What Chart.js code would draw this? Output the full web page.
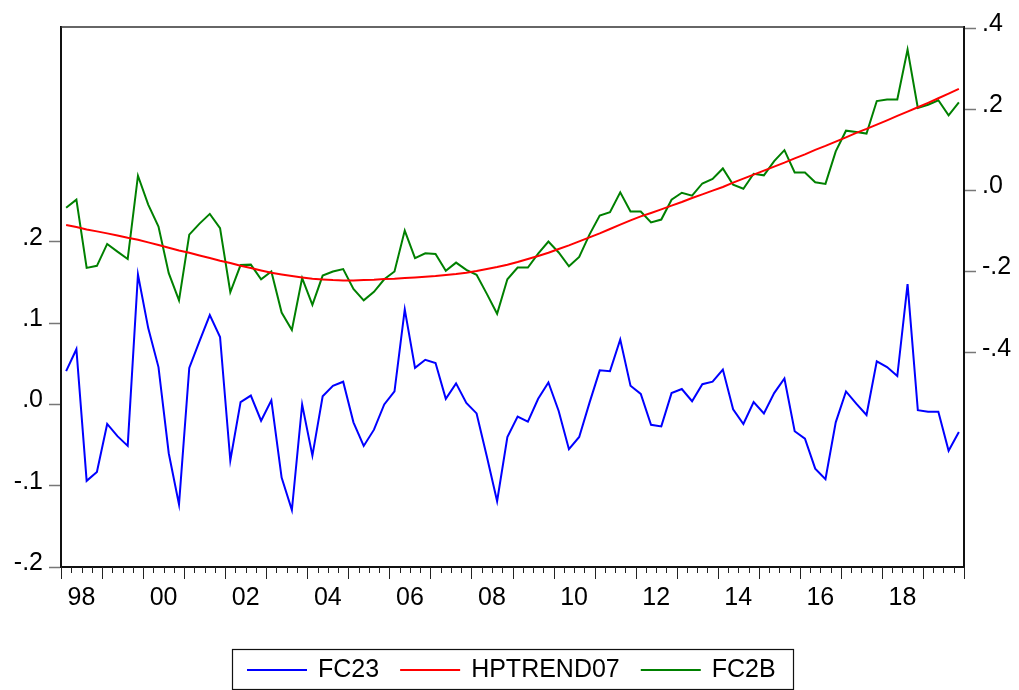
<!DOCTYPE html>
<html>
<head>
<meta charset="utf-8">
<script src="https://cdn.jsdelivr.net/npm/chart.js@4.4.0/dist/chart.umd.min.js"></script>
<style>
  html, body { margin: 0; padding: 0; background: #fff; }
  #wrap { width: 1019px; height: 690px; }
</style>
</head>
<body>
<div id="wrap"><canvas id="chart" width="1019" height="690"></canvas></div>
<script>
// quarterly observations 1998Q1 .. 2019Q4
const firstYear = 1998;
const quarters = [];
for (let y = firstYear; y <= 2019; y++) {
    for (let q = 1; q <= 4; q++) quarters.push(y + 'Q' + q);
}
const yearLabels = ['98', '00', '02', '04', '06', '08', '10', '12', '14', '16', '18'];
const leftTicks = [-0.2, -0.1, 0, 0.1, 0.2];
const rightTicks = [-0.4, -0.2, 0, 0.2, 0.4];

const fc23 = [
    0.041, 0.068, -0.094, -0.083, -0.024, -0.039, -0.051, 0.160, 0.094, 0.046,
    -0.060, -0.123, 0.045, 0.078, 0.110, 0.083, -0.069, 0.003, 0.011, -0.020,
    0.005, -0.090, -0.130, 0.000, -0.063, 0.010, 0.023, 0.028, -0.022, -0.051,
    -0.031, 0.000, 0.016, 0.117, 0.045, 0.055, 0.051, 0.007, 0.026, 0.002,
    -0.011, -0.064, -0.119, -0.040, -0.015, -0.021, 0.007, 0.027, -0.008, -0.055,
    -0.040, 0.002, 0.042, 0.041, 0.080, 0.023, 0.013, -0.025, -0.027, 0.014,
    0.019, 0.004, 0.025, 0.028, 0.043, -0.006, -0.024, 0.003, -0.011, 0.014,
    0.032, -0.033, -0.042, -0.079, -0.092, -0.022, 0.016, 0.001, -0.013, 0.053,
    0.046, 0.035, 0.148, -0.007, -0.009, -0.009, -0.057, -0.034
];

const hptrend07 = [
    -0.0853, -0.0903, -0.0962, -0.1011, -0.1060, -0.1110, -0.1166, -0.1216, -0.1282, -0.1347,
    -0.1413, -0.1480, -0.1536, -0.1603, -0.1667, -0.1734, -0.1790, -0.1857, -0.1914, -0.1973,
    -0.2030, -0.2072, -0.2111, -0.2145, -0.2178, -0.2195, -0.2210, -0.2219, -0.2219, -0.2210,
    -0.2202, -0.2185, -0.2178, -0.2160, -0.2145, -0.2128, -0.2111, -0.2086, -0.2062, -0.2030,
    -0.1988, -0.1938, -0.1889, -0.1832, -0.1766, -0.1692, -0.1618, -0.1536, -0.1445, -0.1356,
    -0.1258, -0.1159, -0.1060, -0.0952, -0.0846, -0.0740, -0.0641, -0.0557, -0.0469, -0.0377,
    -0.0286, -0.0187, -0.0099, -0.0007, 0.0084, 0.0190, 0.0289, 0.0387, 0.0486, 0.0584,
    0.0683, 0.0789, 0.0888, 0.0996, 0.1095, 0.1201, 0.1307, 0.1416, 0.1514, 0.1620,
    0.1726, 0.1835, 0.1941, 0.2047, 0.2155, 0.2269, 0.2385, 0.2501
];

const fc2b = [
    -0.043, -0.023, -0.191, -0.186, -0.132, -0.151, -0.169, 0.036, -0.035, -0.089,
    -0.204, -0.271, -0.109, -0.082, -0.058, -0.093, -0.251, -0.184, -0.183, -0.219,
    -0.200, -0.301, -0.344, -0.216, -0.282, -0.210, -0.200, -0.194, -0.243, -0.271,
    -0.250, -0.219, -0.200, -0.099, -0.167, -0.155, -0.157, -0.198, -0.178, -0.196,
    -0.208, -0.255, -0.304, -0.219, -0.190, -0.190, -0.156, -0.126, -0.153, -0.187,
    -0.164, -0.109, -0.062, -0.054, -0.005, -0.052, -0.052, -0.079, -0.072, -0.023,
    -0.006, -0.013, 0.017, 0.028, 0.054, 0.014, 0.004, 0.041, 0.037, 0.072,
    0.099, 0.044, 0.044, 0.020, 0.016, 0.096, 0.147, 0.144, 0.140, 0.220,
    0.224, 0.224, 0.347, 0.203, 0.211, 0.222, 0.185, 0.217
];

const FONT = { family: '"Liberation Sans", Arial, sans-serif', size: 25 };

function toPoints(values) {
    return values.map((v, i) => ({ x: i, y: v }));
}

function fmtTick(v) {
    const s = Math.abs(v).toFixed(1).replace(/^0/, '');
    return v < -1e-9 ? '-' + s : s;
}

// top frame line, quarterly tick marks and the boxed legend
const framePlugin = {
    id: 'frame',
    afterDraw(chart) {
        const ctx = chart.ctx;
        const area = chart.chartArea;
        const xs = chart.scales.x;
        ctx.save();

        ctx.strokeStyle = '#333';
        ctx.lineWidth = 1.5;
        ctx.beginPath();
        ctx.moveTo(area.left, area.top);
        ctx.lineTo(area.right, area.top);
        ctx.stroke();

        ctx.strokeStyle = '#222';
        ctx.lineWidth = 1;
        for (let k = 0; k <= quarters.length; k++) {
            const px = Math.round(xs.getPixelForValue(k - 0.5)) + 0.5;
            const len = k % 4 === 0 ? 12 : 6;
            ctx.beginPath();
            ctx.moveTo(px, area.bottom);
            ctx.lineTo(px, area.bottom + len);
            ctx.stroke();
        }

        const box = { left: 232.5, top: 649.5, right: 793.5, bottom: 689.5 };
        ctx.strokeStyle = '#111';
        ctx.lineWidth = 1.2;
        ctx.strokeRect(box.left, box.top, box.right - box.left, box.bottom - box.top);

        ctx.font = '25px ' + FONT.family;
        ctx.textBaseline = 'middle';
        ctx.fillStyle = '#000';
        let x = 247;
        const y = 670;
        chart.data.datasets.forEach((ds) => {
            ctx.strokeStyle = ds.borderColor;
            ctx.lineWidth = 2;
            ctx.beginPath();
            ctx.moveTo(x, y);
            ctx.lineTo(x + 60, y);
            ctx.stroke();
            ctx.fillText(ds.label, x + 71, y);
            x += 71 + ctx.measureText(ds.label).width + 21;
        });
        ctx.restore();
    }
};

new Chart(document.getElementById('chart').getContext('2d'), {
    type: 'line',
    data: {
        datasets: [
            { label: 'FC23', data: toPoints(fc23), yAxisID: 'yL', borderColor: '#0000ff' },
            { label: 'HPTREND07', data: toPoints(hptrend07), yAxisID: 'yR', borderColor: '#ff0000' },
            { label: 'FC2B', data: toPoints(fc2b), yAxisID: 'yR', borderColor: '#008000' },
        ],
    },
    options: {
        responsive: false,
        animation: false,
        devicePixelRatio: 1,
        layout: { padding: { top: 27, left: 0, right: 0, bottom: 0 } },
        elements: {
            line: { borderWidth: 2, tension: 0, fill: false },
            point: { radius: 0, hoverRadius: 0 },
        },
        plugins: { legend: { display: false }, tooltip: { enabled: false } },
        scales: {
            x: {
                type: 'linear',
                min: -0.5,
                max: quarters.length - 0.5,
                grid: { display: false },
                border: { display: true, color: '#111', width: 2 },
                afterBuildTicks(scale) {
                    scale.ticks = yearLabels.map((_, j) => ({ value: 8 * j + 1.5 }));
                },
                ticks: {
                    autoSkip: false,
                    maxRotation: 0,
                    padding: 8,
                    color: '#000',
                    font: FONT,
                    callback(value) {
                        const j = Math.round((value - 1.5) / 8);
                        return yearLabels[j] || '';
                    },
                },
                afterFit(scale) { scale.height = 123; },
            },
            yL: {
                position: 'left',
                min: -0.2,
                max: 0.4645,
                grid: { drawOnChartArea: false, drawTicks: true, tickLength: 12, tickColor: '#777', tickWidth: 1.5 },
                border: { display: true, color: '#111', width: 2 },
                afterBuildTicks(scale) {
                    scale.ticks = leftTicks.map((v) => ({ value: v }));
                },
                ticks: { padding: 6, labelOffset: -4, color: '#000', font: FONT, callback: fmtTick },
                afterFit(scale) { scale.width = 61; },
            },
            yR: {
                position: 'right',
                min: -0.928,
                max: 0.4025,
                grid: { drawOnChartArea: false, drawTicks: true, tickLength: 12, tickColor: '#777', tickWidth: 1.5 },
                border: { display: true, color: '#111', width: 2 },
                afterBuildTicks(scale) {
                    scale.ticks = rightTicks.map((v) => ({ value: v }));
                },
                ticks: { padding: 6, labelOffset: -4, color: '#000', font: FONT, callback: fmtTick },
                afterFit(scale) { scale.width = 55; },
            },
        },
    },
    plugins: [framePlugin],
});
</script>
</body>
</html>
